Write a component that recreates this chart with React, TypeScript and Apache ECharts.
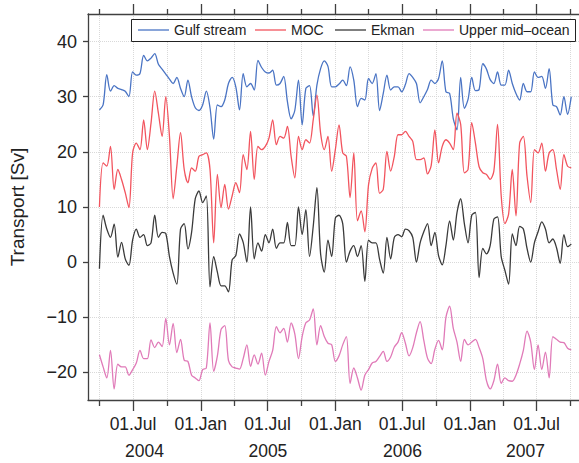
import React, { useEffect, useRef } from 'react';
import * as echarts from 'echarts';

// Sampling of the series: one value every STEP_DAYS days starting at START_DATE
const START_DATE = '2004-04-01';
const STEP_DAYS = 10;

const SERIES_NAMES = ['Gulf stream', 'MOC', 'Ekman', 'Upper mid\u2013ocean'];

const gulfStream = [
  27.6, 28.5, 34.0, 31.0, 32.0, 31.5, 31.3, 31.0, 30.0, 34.5, 33.9, 34.2, 37.5, 36.5, 37.0, 37.8,
  35.9, 35.0, 34.1, 33.2, 32.4, 33.5, 31.5, 30.0, 33.0, 30.0, 28.0, 27.5, 28.5, 31.0, 28.0, 22.3,
  28.5, 28.2, 29.4, 32.4, 33.5, 31.8, 27.6, 34.2, 31.8, 32.4, 31.2, 36.6, 35.3, 34.5, 34.3, 34.8,
  32.1, 32.4, 33.7, 29.1, 26.0, 27.5, 33.0, 24.9, 31.5, 32.0, 26.5, 32.1, 35.1, 36.5, 35.5, 31.8,
  31.8, 32.3, 33.0, 32.0, 35.4, 33.0, 28.2, 29.7, 29.4, 33.3, 32.4, 34.2, 27.5, 30.6, 33.9, 31.2,
  31.8, 31.8, 30.9, 32.2, 34.2, 33.5, 32.4, 28.9, 30.0, 31.3, 33.0, 32.4, 33.3, 36.5, 30.9, 30.6,
  26.0, 24.0, 33.5, 27.9, 29.5, 33.5, 31.1, 31.3, 36.0, 35.0, 33.1, 32.4, 34.5, 32.1, 32.1, 34.8,
  32.4, 30.6, 29.4, 32.4, 30.9, 30.9, 34.5, 33.5, 33.7, 31.5, 35.1, 28.5, 28.2, 26.7, 30.0, 26.8,
  30.0,
];

const moc = [
  10.0, 18.0, 17.4, 21.0, 13.2, 16.8, 15.0, 12.6, 9.9, 19.8, 21.6, 20.4, 25.8, 20.4, 25.2, 31.0,
  27.0, 22.8, 30.0, 22.8, 11.5, 17.4, 23.5, 16.8, 14.4, 17.1, 16.5, 19.2, 19.5, 19.8, 16.8, 3.5,
  15.9, 9.9, 14.1, 9.6, 12.0, 14.4, 12.6, 19.5, 16.8, 23.7, 15.0, 21.0, 20.4, 21.0, 22.5, 25.8,
  21.3, 22.8, 22.5, 24.6, 19.2, 15.3, 22.8, 20.4, 22.2, 21.6, 25.8, 30.3, 23.4, 20.4, 22.8, 16.5,
  20.4, 24.9, 19.8, 19.2, 11.7, 19.8, 7.5, 9.3, 5.5, 14.0, 17.0, 18.0, 12.5, 13.2, 20.1, 16.5,
  19.2, 23.1, 23.1, 23.7, 22.8, 21.9, 18.6, 18.6, 18.9, 16.0, 17.5, 24.0, 18.0, 21.0, 22.2, 21.6,
  20.4, 27.0, 25.0, 16.2, 16.8, 25.3, 21.6, 17.3, 16.2, 15.9, 15.0, 16.5, 25.0, 12.0, 7.0, 8.7,
  16.8, 8.4, 21.6, 22.8, 15.6, 10.8, 20.4, 19.8, 21.6, 16.5, 19.8, 20.4, 16.8, 13.2, 19.5, 17.4,
  17.1,
];

const ekman = [
  -1.2, 8.5, 6.0, 4.5, 6.9, 0.9, 3.6, 0.6, -0.6, 4.0, 6.0, 4.5, 5.0, 3.0, 3.5, 8.5,
  4.5, 5.4, 5.2, 1.0, -2.0, -4.0, 6.0, 7.0, 2.4, 5.4, 11.5, 12.9, 10.8, 12.0, -4.5, 1.0,
  -1.8, -4.3, -4.3, -5.4, 0.4, 1.2, 5.1, 3.6, 0.0, 10.0, 0.6, 3.5, 2.0, 5.0, 3.5, 6.0,
  2.5, 3.5, 3.5, 7.2, 3.0, 3.0, 10.0, 5.0, 9.5, 1.0, 6.5, 13.5, 1.5, -1.8, 4.0, 1.0,
  8.0, 8.5, 7.0, 0.0, 2.0, 3.0, 1.0, 3.0, -3.5, 4.0, 3.5, 3.5, 0.5, -2.0, 4.5, 0.6,
  4.5, 5.0, 4.6, 6.0, 5.7, 4.5, 0.0, 3.5, 5.5, 7.0, 3.0, 5.4, 1.2, -0.5, 3.0, 7.5,
  4.0, 9.0, 11.5, 7.0, 3.5, 8.5, 9.0, -2.8, 2.5, 1.5, 3.0, 7.8, 8.2, 1.0, -1.5, -4.0,
  5.1, 3.0, 6.5, 6.0, 2.5, 0.0, 3.5, 5.5, 7.3, 6.0, 3.5, 4.2, 2.6, -0.2, 5.0, 2.8,
  3.3,
];

const upperMidOcean = [
  -16.8, -19.0, -21.0, -16.0, -23.0, -18.5, -19.0, -19.0, -20.5, -19.5, -18.3, -16.0, -17.5, -17.5, -14.1, -15.5,
  -14.5, -15.3, -10.2, -15.0, -11.1, -16.4, -14.0, -17.8, -18.0, -20.5, -21.0, -21.5, -19.5, -19.2, -11.0, -19.8,
  -17.0, -12.2, -11.5, -17.8, -19.0, -19.2, -19.4, -17.5, -15.0, -18.9, -16.8, -18.5, -16.5, -20.5, -18.0, -16.0,
  -11.7, -12.8, -12.0, -14.5, -11.0, -13.0, -17.5, -13.5, -11.0, -10.5, -8.5, -15.0, -11.5, -13.5, -14.7, -15.0,
  -18.0, -17.0, -15.0, -13.5, -22.0, -19.2, -21.0, -23.2, -20.5, -19.5, -18.3, -18.0, -17.1, -16.2, -18.0, -17.2,
  -15.4, -14.5, -12.8, -14.7, -17.0, -15.5, -12.8, -10.8, -14.2, -17.4, -18.4, -15.8, -14.2, -15.9, -10.0, -8.0,
  -12.0, -14.5, -18.0, -14.0, -15.0, -14.5, -14.0, -15.5, -17.5, -21.5, -23.0, -21.5, -18.5, -22.0, -21.0, -21.5,
  -21.6, -20.5, -18.5, -16.0, -12.5, -14.5, -19.5, -15.0, -19.5, -16.3, -21.0, -13.5, -14.0, -14.5, -14.6, -15.6,
  -15.9,
];

const SERIES_VALUES = [gulfStream, moc, ekman, upperMidOcean];
const SERIES_COLORS = ['#4a74c4', '#f2545e', '#3a3a3a', '#e07ab8'];

const X_MIN = '2004-03-01';
const X_MAX = '2007-10-24';
const MAJOR_TICKS = ['2004-07-01', '2005-01-01', '2005-07-01', '2006-01-01', '2006-07-01', '2007-01-01', '2007-07-01'];
const MINOR_TICKS = ['2004-04-01', '2004-10-01', '2005-04-01', '2005-10-01', '2006-04-01', '2006-10-01', '2007-04-01', '2007-10-01'];
// year labels sit at the centre of the visible part of each year
const YEAR_LABEL_DATES = ['2004-08-01', '2005-07-02', '2006-07-02', '2007-06-01'];
const Y_TICKS = [-20, -10, 0, 10, 20, 30, 40];
const MONTHS = ['Jan', 'Feb', 'Mar', 'Apr', 'May', 'Jun', 'Jul', 'Aug', 'Sep', 'Oct', 'Nov', 'Dec'];

const ts = (s: string) => Date.parse(s + 'T00:00:00Z');
const DAY = 86400000;

const FONT = "'Liberation Sans', Arial, Helvetica, sans-serif";
const AXIS_COLOR = '#404040';
const TEXT_COLOR = '#222';
const GRID_LINE = { type: 'dotted', color: '#d9d9d9', width: 1 };

export default function App() {
  const ref = useRef<HTMLDivElement>(null);

  useEffect(() => {
    if (!ref.current) return;
    const chart = echarts.init(ref.current, undefined, { renderer: 'svg' });
    const start = ts(START_DATE);
    const gridRect = { left: 88, top: 14, right: 0, bottom: 63 };
    const xMin = ts(X_MIN);
    const xMax = ts(X_MAX);
    const major = MAJOR_TICKS.map(ts);
    const minor = MINOR_TICKS.map(ts);
    const years = YEAR_LABEL_DATES.map(ts);

    const baseX = (gridIndex: number, position: string) => ({
      type: 'value',
      gridIndex,
      position,
      min: xMin,
      max: xMax,
      scale: true,
      axisLine: { show: false, onZero: false, lineStyle: { color: AXIS_COLOR, width: 1.3 } },
      axisTick: { show: false },
      axisLabel: { show: false },
      splitLine: { show: false },
      axisPointer: { show: false },
    });

    const hiddenY = (gridIndex: number) => ({
      type: 'value',
      gridIndex,
      min: -25,
      max: 45,
      show: false,
    });

    const option: any = {
      animation: false,
      textStyle: { fontFamily: FONT },
      grid: [gridRect, gridRect, gridRect].map((g) => ({ ...g, containLabel: false })),
      xAxis: [
        {
          ...baseX(0, 'bottom'),
          axisLine: { show: true, onZero: false, lineStyle: { color: AXIS_COLOR, width: 1.3 } },
          axisTick: { show: true, inside: false, length: 11, customValues: major, lineStyle: { color: AXIS_COLOR, width: 1.3 } },
          axisLabel: {
            show: true,
            customValues: major,
            margin: 15,
            fontSize: 17.5,
            color: TEXT_COLOR,
            fontFamily: FONT,
            formatter: (v: number) => {
              const d = new Date(v);
              return '01.' + MONTHS[d.getUTCMonth()];
            },
          },
          splitLine: { show: true, lineStyle: GRID_LINE },
        },
        {
          ...baseX(0, 'top'),
          axisLine: { show: true, onZero: false, lineStyle: { color: AXIS_COLOR, width: 1.3 } },
          axisTick: { show: true, inside: false, length: 10, customValues: major, lineStyle: { color: AXIS_COLOR, width: 1.3 } },
        },
        {
          ...baseX(1, 'bottom'),
          axisTick: { show: true, inside: false, length: 6, customValues: minor, lineStyle: { color: AXIS_COLOR, width: 1.3 } },
          splitLine: { show: true, lineStyle: GRID_LINE },
        },
        {
          ...baseX(1, 'top'),
          axisTick: { show: true, inside: false, length: 5, customValues: minor, lineStyle: { color: AXIS_COLOR, width: 1.3 } },
        },
        {
          ...baseX(2, 'bottom'),
          axisLabel: {
            show: true,
            customValues: years,
            margin: 42,
            fontSize: 17.5,
            color: TEXT_COLOR,
            fontFamily: FONT,
            formatter: (v: number) => String(new Date(v).getUTCFullYear()),
          },
        },
      ],
      yAxis: [
        {
          type: 'value',
          gridIndex: 0,
          min: -25,
          max: 45,
          name: 'Transport [Sv]',
          nameLocation: 'middle',
          nameGap: 61,
          nameTextStyle: { fontSize: 19, color: TEXT_COLOR, fontFamily: FONT },
          axisLine: { show: true, onZero: false, lineStyle: { color: AXIS_COLOR, width: 1.3 } },
          axisTick: { show: true, inside: false, length: 5, customValues: Y_TICKS, lineStyle: { color: AXIS_COLOR, width: 1.3 } },
          axisLabel: {
            customValues: Y_TICKS,
            margin: 11,
            fontSize: 18,
            color: TEXT_COLOR,
            fontFamily: FONT,
            formatter: (v: number) => (v < 0 ? '\u2212' + Math.abs(v) : String(v)),
          },
          splitLine: { show: true, lineStyle: GRID_LINE },
        },
        hiddenY(1),
        hiddenY(2),
      ],
      legend: SERIES_NAMES.map((name, i) => ({
        data: [name],
        left: [138, 255, 335, 423][i],
        top: 23,
        padding: 0,
        icon: 'rect',
        itemWidth: 31,
        itemHeight: 1.3,
        itemGap: 0,
        selectedMode: false,
        textStyle: { fontSize: 14, color: TEXT_COLOR, fontFamily: FONT, lineHeight: 14 },
      })),
      graphic: [
        {
          type: 'rect',
          left: 131,
          top: 19,
          z: 3,
          shape: { width: 444, height: 22 },
          style: { fill: '#ffffff', stroke: '#222', lineWidth: 1 },
        },
      ],
      series: SERIES_NAMES.map((name, k) => ({
        name,
        type: 'line',
        xAxisIndex: 0,
        yAxisIndex: 0,
        showSymbol: false,
        symbol: 'none',
        smooth: 0.3,
        z: 2,
        lineStyle: { color: SERIES_COLORS[k], width: 1.3 },
        itemStyle: { color: SERIES_COLORS[k] },
        data: SERIES_VALUES[k].map((v, i) => [start + i * STEP_DAYS * DAY, v]),
      })),
    };

    chart.setOption(option);
    return () => chart.dispose();
  }, []);

  return (
    <div
      ref={ref}
      style={{ position: 'fixed', left: 0, top: 0, width: 579, height: 463, background: '#fff' }}
    />
  );
}
